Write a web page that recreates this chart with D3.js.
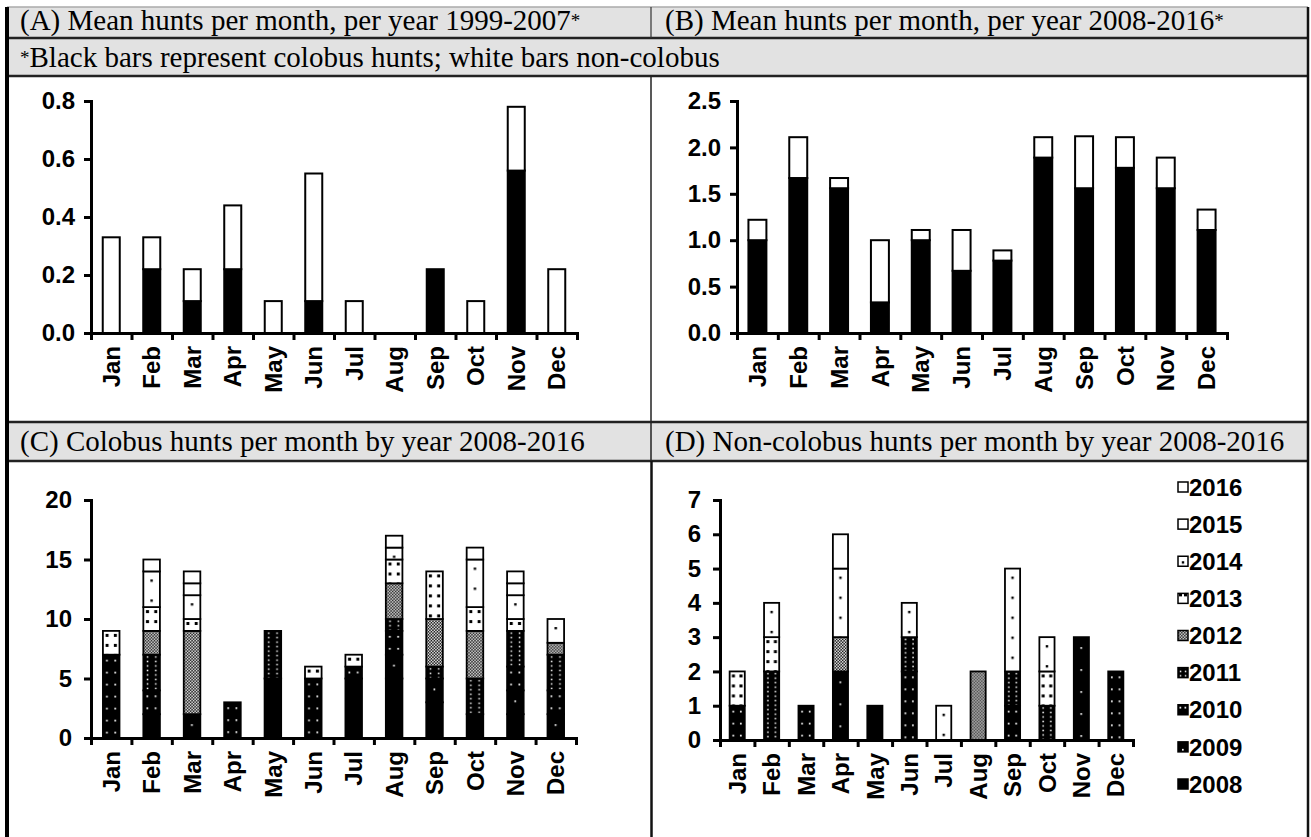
<!DOCTYPE html>
<html><head><meta charset="utf-8">
<script src="https://cdn.jsdelivr.net/npm/d3@7/dist/d3.min.js"></script>
<style>
html,body{margin:0;padding:0;background:#fff;}
svg{display:block;}
.hdr{font-family:"Liberation Serif","Times New Roman",serif;font-size:29px;fill:#000;}
.hdr .ast{font-size:19px;}
.axis text{font-family:"Liberation Sans",Arial,sans-serif;font-weight:bold;font-size:24px;fill:#000;}
.leg text{font-family:"Liberation Sans",Arial,sans-serif;font-weight:bold;font-size:24px;fill:#000;}
</style></head><body>
<svg id="c" width="1311" height="837"></svg>
<script>
// ---------------- DATA ----------------
const months = ["Jan","Feb","Mar","Apr","May","Jun","Jul","Aug","Sep","Oct","Nov","Dec"];
const years = ["2008","2009","2010","2011","2012","2013","2014","2015","2016"];

// Panel A: mean hunts per month, per year 1999-2007
const colobusMean1999 = [0.00,0.22,0.11,0.22,0.00,0.11,0.00,0.00,0.22,0.00,0.56,0.00];
const nonColobusMean1999 = [0.33,0.11,0.11,0.22,0.11,0.44,0.11,0.00,0.00,0.11,0.22,0.22];

// Panel B: mean hunts per month, per year 2008-2016
const colobusMean2008 = [1.00,1.67,1.56,0.33,1.00,0.67,0.78,1.89,1.56,1.78,1.56,1.11];
const nonColobusMean2008 = [0.22,0.44,0.11,0.67,0.11,0.44,0.11,0.22,0.56,0.33,0.33,0.22];

// Panel C: colobus hunts per month by year
const colobus2008 = [0,2,0,0,5,0,5,5,3,2,2,0];
const colobus2009 = [0,0,2,0,0,0,0,2,2,0,2,2];
const colobus2010 = [7,2,0,3,0,5,1,2,0,0,2,2];
const colobus2011 = [0,3,0,0,4,0,0,1,1,3,3,3];
const colobus2012 = [0,2,7,0,0,0,0,3,4,4,0,1];
const colobus2013 = [2,2,1,0,0,1,1,2,4,2,1,0];
const colobus2014 = [0,3,2,0,0,0,0,1,0,4,2,2];
const colobus2015 = [0,1,1,0,0,0,0,0,0,0,1,0];
const colobus2016 = [0,0,1,0,0,0,0,1,0,1,1,0];

// Panel D: non-colobus hunts per month by year
const nonColobus2008 = [0,0,0,0,1,0,0,0,0,0,0,0];
const nonColobus2009 = [0,0,0,2,0,0,0,0,0,0,3,0];
const nonColobus2010 = [1,0,1,0,0,2,0,0,1,0,0,2];
const nonColobus2011 = [0,2,0,0,0,1,0,0,1,1,0,0];
const nonColobus2012 = [0,0,0,1,0,0,0,2,0,0,0,0];
const nonColobus2013 = [1,1,0,0,0,0,0,0,0,1,0,0];
const nonColobus2014 = [0,1,0,2,0,1,1,0,3,1,0,0];
const nonColobus2015 = [0,0,0,0,0,0,0,0,0,0,0,0];
const nonColobus2016 = [0,0,0,1,0,0,0,0,0,0,0,0];

// Tick labels
const ticksA = [0,0.2,0.4,0.6,0.8];
const ticksB = [0,0.5,1.0,1.5,2.0,2.5];
const ticksC = [0,5,10,15,20];
const ticksD = [0,1,2,3,4,5,6,7];

// Header texts
const titleA = "(A) Mean hunts per month, per year 1999-2007";
const titleB = "(B) Mean hunts per month, per year 2008-2016";
const noteText = "Black bars represent colobus hunts; white bars non-colobus";
const titleC = "(C) Colobus hunts per month by year 2008-2016";
const titleD = "(D) Non-colobus hunts per month by year 2008-2016";

// ---------------- BUILD ----------------
const colobusByYear = [colobus2008,colobus2009,colobus2010,colobus2011,colobus2012,colobus2013,colobus2014,colobus2015,colobus2016];
const nonColobusByYear = [nonColobus2008,nonColobus2009,nonColobus2010,nonColobus2011,nonColobus2012,nonColobus2013,nonColobus2014,nonColobus2015,nonColobus2016];
function tableFrom(arrs){
  return months.map((m,i)=>{const r={month:m}; years.forEach((y,k)=>r[y]=arrs[k][i]); return r;});
}
const tableC = tableFrom(colobusByYear);
const tableD = tableFrom(nonColobusByYear);

const svg = d3.select("#c");
const defs = svg.append("defs");

// year fill patterns, anchored to each bar's left edge
// spec(bw) -> {w,h,bg,fg,pts,s}
const patSpec = {
  "2009": bw=>({w:bw,h:22,bg:"#000",fg:"#fff",pts:[[bw/2-1,10]],s:1.7}),
  "2010": bw=>({w:bw/2,h:12,bg:"#000",fg:"#fff",pts:[[bw/4-1,5]],s:1.7}),
  "2011": bw=>({w:bw/2,h:4.5,bg:"#000",fg:"#fff",pts:[[bw/4-0.7,1.5]],s:1.5}),
  "2012": bw=>({w:3,h:3,bg:"#000",fg:"#fff",pts:[[0,0],[1.5,1.5]],s:1.5}),
  "2013": bw=>({w:bw/2,h:10,bg:"#fff",fg:"#000",pts:[[bw/4-1.5,3]],s:3}),
  "2014": bw=>({w:bw,h:20,bg:"#fff",fg:"#000",pts:[[bw/2-1.2,8]],s:2.4})
};
const patCache = {};
function yearFill(yr, x0, y0, bw){
  if(yr==="2008") return "#000";
  if(yr==="2015"||yr==="2016") return "#fff";
  const key = `p${yr}_${Math.round(x0*10)}_${Math.round(bw*10)}`;
  if(!patCache[key]){
    const p = patSpec[yr](bw);
    const pt = defs.append("pattern").attr("id",key).attr("patternUnits","userSpaceOnUse")
      .attr("x",x0).attr("y",y0).attr("width",p.w).attr("height",p.h);
    pt.append("rect").attr("width",p.w).attr("height",p.h).attr("fill",p.bg);
    p.pts.forEach(q=>pt.append("rect").attr("x",q[0]).attr("y",q[1]).attr("width",p.s).attr("height",p.s).attr("fill",p.fg));
    patCache[key]=true;
  }
  return `url(#${key})`;
}

// ---------------- FRAME ----------------
const L=7, R=1308, MID=651;
const rows = [[7,38],[38,76],[422,461]];
rows.forEach(r=>svg.append("rect").attr("x",L).attr("y",r[0]).attr("width",R-L).attr("height",r[1]-r[0]).attr("fill","#e2e2e2"));
svg.append("line").attr("x1",L).attr("x2",R).attr("y1",7).attr("y2",7).attr("stroke","#aaa").attr("stroke-width",1.5);
[38,76,422,461].forEach(y=>svg.append("line").attr("x1",L).attr("x2",R).attr("y1",y).attr("y2",y).attr("stroke","#222").attr("stroke-width",2.5));
svg.append("line").attr("x1",MID).attr("x2",MID).attr("y1",7).attr("y2",38).attr("stroke","#333").attr("stroke-width",1.2);
svg.append("line").attr("x1",MID).attr("x2",MID).attr("y1",76).attr("y2",461).attr("stroke","#222").attr("stroke-width",1.5);
svg.append("line").attr("x1",MID+0.5).attr("x2",MID+0.5).attr("y1",461).attr("y2",837).attr("stroke","#111").attr("stroke-width",2.5);
svg.append("line").attr("x1",L).attr("x2",L).attr("y1",7).attr("y2",837).attr("stroke","#000").attr("stroke-width",4);
svg.append("line").attr("x1",R).attr("x2",R).attr("y1",7).attr("y2",837).attr("stroke","#111").attr("stroke-width",2.5);

function header(x,y,txt,astBefore,astAfter){
  const t = svg.append("text").attr("class","hdr").attr("x",x).attr("y",y);
  if(astBefore) t.append("tspan").attr("class","ast").attr("dy",-3).text("*");
  t.append("tspan").attr("dy",astBefore?3:0).text(txt);
  if(astAfter) t.append("tspan").attr("class","ast").attr("dy",-3).text("*");
}
header(20,30,titleA,false,true);
header(MID+14,30,titleB,false,true);
header(20,67,noteText,true,false);
header(20,451,titleC,false,false);
header(MID+14,451,titleD,false,false);

// ---------------- PANELS ----------------
function panel(cfg){
  const g = svg.append("g");
  const x = d3.scaleBand().domain(months).range(cfg.xr).paddingInner(1-cfg.frac).paddingOuter((1-cfg.frac)/2);
  const xl = d3.scaleLinear().domain([0,12]).range(cfg.xr);
  const y = d3.scaleLinear().domain(cfg.dom).range(cfg.yr);
  cfg.draw(g,x,y);
  const ya = g.append("g").attr("class","axis").attr("transform",`translate(${cfg.xr[0]},0)`)
    .call(d3.axisLeft(y).tickValues(cfg.ticks).tickFormat(cfg.fmt).tickSize(7).tickSizeOuter(0).tickPadding(cfg.pad));
  ya.select(".domain").attr("stroke-width",3).attr("stroke-linecap","square");
  ya.selectAll(".tick line").attr("stroke-width",3);
  const xa = g.append("g").attr("class","axis").attr("transform",`translate(0,${cfg.yr[0]})`)
    .call(d3.axisBottom(xl).tickValues(d3.range(13)).tickFormat("").tickSize(7).tickSizeOuter(0));
  xa.select(".domain").attr("stroke-width",3).attr("stroke-linecap","square");
  xa.selectAll(".tick line").attr("stroke-width",3);
  const ml = g.append("g").attr("class","axis").attr("transform",`translate(0,${cfg.yr[0]})`)
    .call(d3.axisBottom(x).tickSize(0));
  ml.select(".domain").remove();
  ml.selectAll("text").attr("transform","rotate(-90)").attr("text-anchor","end")
    .attr("x",-13).attr("y",0).attr("dy","0.36em");
}

function meanBars(col, non){
  return (g,x,y)=>{
    const d = months.map((m,i)=>({m, c:col[i], n:non[i]}));
    g.selectAll(".cb").data(d.filter(e=>e.c>0)).join("rect")
      .attr("x",e=>x(e.m)).attr("width",x.bandwidth())
      .attr("y",e=>y(e.c)).attr("height",e=>y(0)-y(e.c))
      .attr("fill","#000").attr("stroke","#000").attr("stroke-width",2);
    g.selectAll(".nb").data(d.filter(e=>e.n>0)).join("rect")
      .attr("x",e=>x(e.m)).attr("width",x.bandwidth())
      .attr("y",e=>y(e.c+e.n)).attr("height",e=>y(e.c)-y(e.c+e.n))
      .attr("fill","#fff").attr("stroke","#000").attr("stroke-width",2);
  };
}
function stackBars(table){
  return (g,x,y)=>{
    const series = d3.stack().keys(years)(table);
    const bw = x.bandwidth();
    series.forEach(s=>{
      g.append("g").selectAll("rect").data(s.filter(d=>d[1]>d[0])).join("rect")
        .attr("x",d=>x(d.data.month)).attr("width",bw)
        .attr("y",d=>y(d[1])).attr("height",d=>y(d[0])-y(d[1]))
        .attr("fill",d=>yearFill(s.key, x(d.data.month), y(d[1]), bw))
        .attr("stroke","#000").attr("stroke-width",1.8);
    });
  };
}

panel({xr:[91,577], yr:[333,101], dom:[0,0.8], ticks:ticksA, fmt:d3.format(".1f"), frac:0.42, pad:9,
  draw:meanBars(colobusMean1999, nonColobusMean1999)});
panel({xr:[737,1227], yr:[333,101], dom:[0,2.5], ticks:ticksB, fmt:d3.format(".1f"), frac:0.44, pad:9,
  draw:meanBars(colobusMean2008, nonColobusMean2008)});
panel({xr:[91,576], yr:[738,500], dom:[0,20], ticks:ticksC, fmt:d3.format("d"), frac:0.41, pad:12,
  draw:stackBars(tableC)});
panel({xr:[720,1133], yr:[740,500], dom:[0,7], ticks:ticksD, fmt:d3.format("d"), frac:0.44, pad:12,
  draw:stackBars(tableD)});

// ---------------- LEGEND ----------------
const legY = d3.scalePoint().domain(years.slice().reverse()).range([487,784]);
const leg = svg.append("g").attr("class","leg");
years.forEach(yr=>{
  const cy = legY(yr);
  const gy = leg.append("g");
  gy.append("rect").attr("x",1178).attr("y",cy-5).attr("width",10).attr("height",10)
    .attr("fill",yearFill(yr,1178,cy-8,10)).attr("stroke","#000").attr("stroke-width",1.5);
  gy.append("text").attr("x",1189).attr("y",cy).attr("dy","0.36em").text(yr);
});
</script>
</body></html>
